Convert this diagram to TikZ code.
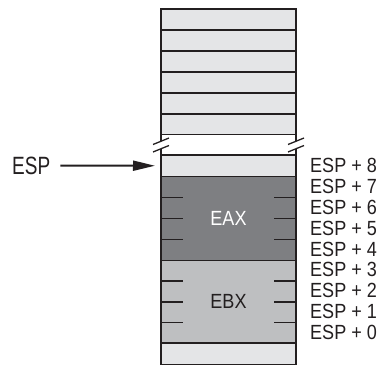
\documentclass[tikz,border=0pt]{standalone}
\usepackage{fontspec}
\setmainfont{Liberation Sans}
\newfontfamily\lblfont[FakeStretch=0.88]{Liberation Sans}
\newfontfamily\bigfont[FakeStretch=0.76]{Liberation Sans}
\usetikzlibrary{arrows.meta}
\definecolor{ink}{HTML}{231F20}
\definecolor{cellL}{HTML}{E4E5E7}
\definecolor{cellD}{HTML}{7E7F82}
\definecolor{cellM}{HTML}{BEBFC1}
\begin{document}
\begin{tikzpicture}[x=1pt,y=-1pt,
  cell/.style={draw=ink,line width=1.5pt,minimum width=135pt,inner sep=0pt,anchor=north west,outer sep=0pt},
  lbl/.style={font=\lblfont\fontsize{20.5}{20.5}\selectfont,text=ink,inner sep=0pt},
  tickline/.style={draw=ink,line width=1.2pt},
  edge/.style={draw=ink,line width=1.5pt},
  slash/.style={draw=ink,line width=1.3pt}]
\useasboundingbox (0,0) rectangle (387,366);
% upper rows
\foreach \i in {0,...,5}
  \node[cell,fill=cellL,minimum height=21pt] (top\i) at (161,{9+21*\i}) {};
% break gap
\node[fill=white,minimum width=135pt,minimum height=20pt,inner sep=0pt,anchor=north west] (gap) at (161,135) {};
\draw[edge] (161,135) -- (161,140.5) (161,148.5) -- (161,155);
\draw[edge] (296,135) -- (296,140.5) (296,148.5) -- (296,155);
\draw[slash] (153,144.5) -- (169,138) (153,152) -- (169,145.5);
\draw[slash] (288,144.5) -- (304,138) (288,152) -- (304,145.5);
% stack cells
\node[cell,fill=cellL,minimum height=21.5pt] (esprow) at (161,155) {};
\node[cell,fill=cellD,minimum height=84pt,text=white,font=\lblfont\fontsize{20.5}{20.5}\selectfont] (eax) at (161,176.5) {EAX};
\node[cell,fill=cellM,minimum height=82.5pt,text=ink,font=\lblfont\fontsize{20.5}{20.5}\selectfont] (ebx) at (161,260.5) {EBX};
\node[cell,fill=cellL,minimum height=21.5pt] (bot) at (161,343) {};
% ticks
\foreach \y in {197.5,218.5,239.5,281,302,322.5}{
  \draw[tickline] (161,\y) -- (183,\y);
  \draw[tickline] (274,\y) -- (296,\y);
}
% labels
\foreach \k in {0,...,8}
  \node[lbl,anchor=west] (r\k) at (310,{165.75+(8-\k)*20.8}) {ESP + \k};
\node[lbl,font=\bigfont\fontsize{25}{25}\selectfont,anchor=west] (esp) at (12,165.5) {ESP};
\draw[ink,line width=2pt,-{Triangle[length=22pt,width=10pt]}] ([xshift=10pt]esp.east) -- ([xshift=-6pt]esprow.west);
\end{tikzpicture}
\end{document}
